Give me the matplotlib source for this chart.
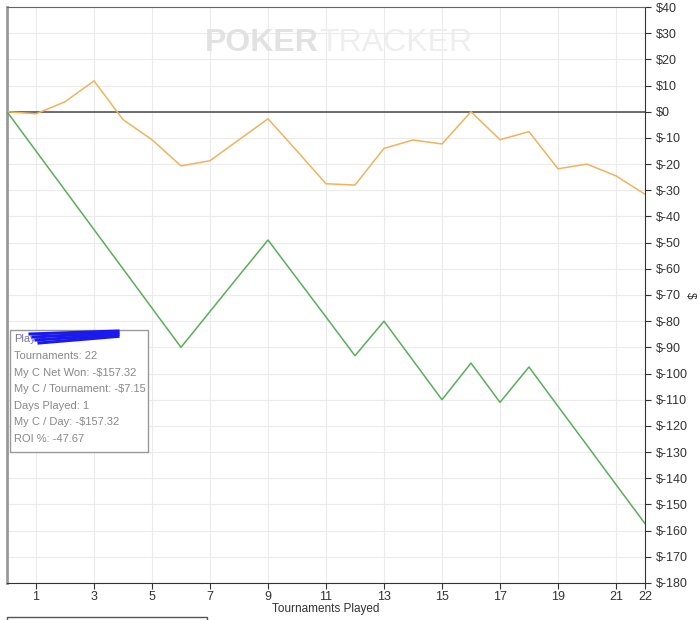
import matplotlib
matplotlib.use("Agg")
import matplotlib.pyplot as plt
from matplotlib.patches import Rectangle

plt.rcParams['font.family'] = ['Liberation Sans', 'DejaVu Sans']

tournaments = list(range(23))
net_won = [0, -0.8, 3.8, 11.8, -3, -10.7, -20.7, -18.7, -10.7, -2.7, -15, -27.5,
           -28, -14, -10.8, -12.3, 0, -10.7, -7.6, -21.8, -20, -24.5, -31.5]
my_c = [0, -15, -30, -45, -60, -75, -90, -76.3, -62.6, -49, -63.7, -78.4,
        -93.2, -80, -95, -110, -96, -111, -97.5, -112.5, -127.4, -142.4, -157.32]
x_ticks = [1, 3, 5, 7, 9, 11, 13, 15, 17, 19, 21, 22]
y_ticks = list(range(-180, 41, 10))
stats = ["Tournaments: 22", "My C Net Won: -$157.32", "My C / Tournament: -$7.15",
         "Days Played: 1", "My C / Day: -$157.32", "ROI %: -47.67"]

fig = plt.figure(figsize=(7, 6.2), dpi=100)
ax = fig.add_axes([0.01, 0.0597, 0.9114, 0.929])

ax.set_xlim(0, 22)
ax.set_ylim(-180, 40)
ax.set_xticks(x_ticks)
ax.set_yticks(y_ticks)
ax.set_yticklabels([f"${v}" for v in y_ticks])
ax.yaxis.tick_right()
ax.yaxis.set_label_position("right")
ax.tick_params(labelsize=9, colors='#333333', length=4, width=0.8)
ax.tick_params(axis='x', pad=2)

for v in y_ticks:
    ax.axhline(v, color='#ebebeb', lw=0.8, zorder=0)
for v in x_ticks[:-1]:
    ax.axvline(v, color='#ebebeb', lw=0.8, zorder=0)
ax.axhline(0, color='#555555', lw=1.2, zorder=1)

ax.plot(tournaments, net_won, color='#f2b25c', lw=1.1, zorder=3)
ax.plot(tournaments, my_c, color='#5aae5a', lw=1.1, zorder=3)

ax.spines['left'].set_color('#999999')
ax.spines['left'].set_linewidth(2)
ax.spines['top'].set_color('#666666')
ax.spines['right'].set_color('#333333')
ax.spines['bottom'].set_color('#333333')

ax.set_xlabel("Tournaments Played", fontsize=8.5, color='#333333')
ax.xaxis.set_label_coords(0.5, -0.034)
ax.set_ylabel("$", fontsize=8.5, color='#333333', rotation=270, va='center')
ax.yaxis.set_label_coords(1.07, 0.5)

# watermark
ax.text(0.31, 0.937, "POKER", transform=ax.transAxes, fontsize=23, fontweight='bold',
        color='#e2e2e2', ha='left', va='center', zorder=0)
ax.text(0.49, 0.937, "TRACKER", transform=ax.transAxes, fontsize=23,
        color='#eeeeee', ha='left', va='center', zorder=0)

# stats box
box = Rectangle((10 / 700, 1 - 452 / 620), 138 / 700, 122 / 620, transform=fig.transFigure,
                facecolor='white', edgecolor='#999999', lw=1, zorder=5)
fig.patches.append(box)
fig.text(14 / 700, 1 - 339 / 620, "Player:", fontsize=8, color='#7777aa', va='center', zorder=6)
for dy in [0, 3, 6, 9]:
    fig.lines.append(plt.Line2D([(30 + dy) / 700, 118 / 700],
                                [1 - (334 + dy) / 620, 1 - (331 + dy * 0.6) / 620],
                                transform=fig.transFigure, color='#1a1aee', lw=2.2, zorder=7))
for i, s in enumerate(stats):
    fig.text(14 / 700, 1 - (356 + i * 16.6) / 620, s, fontsize=8, color='#888888',
             va='center', zorder=6)

# bottom box (cut off)
fig.patches.append(Rectangle((7 / 700, -0.01), 200 / 700, 0.015, transform=fig.transFigure,
                             facecolor='white', edgecolor='#555555', lw=1))

fig.savefig("out.png", dpi=100)
